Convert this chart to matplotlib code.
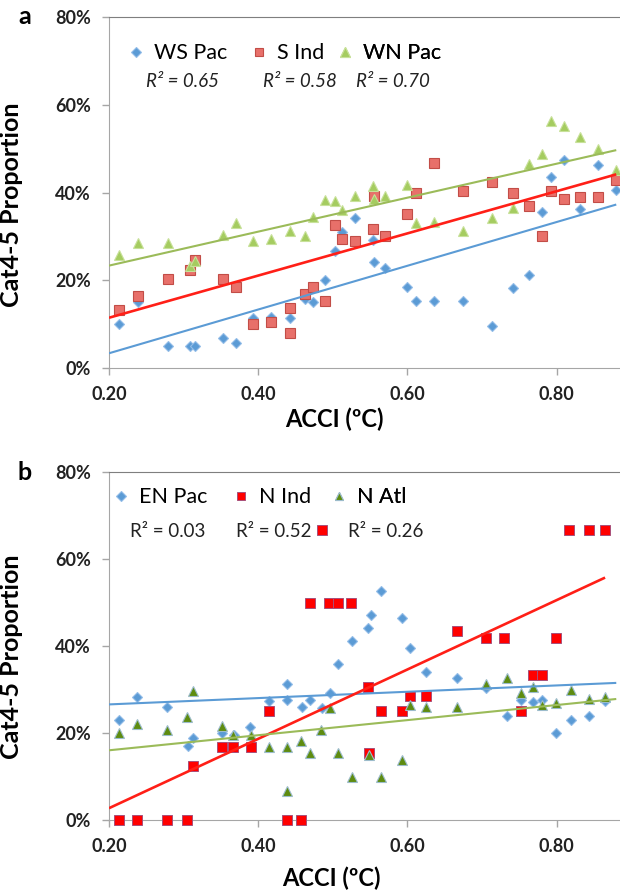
import numpy as np
import matplotlib
matplotlib.use("Agg")
import matplotlib.pyplot as plt
from matplotlib.lines import Line2D

plt.rcParams['font.family'] = ['Lato', 'DejaVu Sans']

# ---- panel a: southern / west pacific basins ----
ws_pac_x = [0.213, 0.239, 0.279, 0.308, 0.315, 0.353, 0.370, 0.393, 0.417, 0.442,
            0.463, 0.474, 0.490, 0.503, 0.513, 0.530, 0.554, 0.555, 0.570, 0.600,
            0.611, 0.635, 0.675, 0.714, 0.742, 0.763, 0.781, 0.792, 0.810, 0.831,
            0.856, 0.880]
ws_pac_y = [10.0, 15.1, 5.1, 5.1, 5.1, 6.9, 5.8, 11.5, 11.7, 11.5,
            15.7, 15.1, 20.0, 26.7, 31.1, 34.1, 29.2, 24.2, 22.7, 18.4,
            15.3, 15.3, 15.3, 9.6, 18.2, 21.3, 35.6, 43.6, 47.5, 36.2,
            46.2, 40.5]

s_ind_x = [0.213, 0.239, 0.279, 0.308, 0.315, 0.353, 0.370, 0.393, 0.417, 0.442,
           0.442, 0.463, 0.474, 0.490, 0.503, 0.513, 0.530, 0.554, 0.555, 0.570,
           0.600, 0.611, 0.635, 0.675, 0.714, 0.742, 0.763, 0.781, 0.792, 0.810,
           0.831, 0.856, 0.880]
s_ind_y = [13.2, 16.4, 20.4, 22.3, 24.6, 20.3, 18.4, 10.0, 10.4, 7.9,
           13.6, 16.9, 18.5, 15.3, 32.7, 29.5, 29.0, 31.8, 39.2, 30.2,
           35.2, 40.0, 46.8, 40.3, 42.3, 39.8, 36.9, 30.1, 40.4, 38.5,
           39.0, 38.9, 42.8]

wn_pac_x = [0.213, 0.239, 0.279, 0.308, 0.315, 0.353, 0.370, 0.393, 0.417, 0.442,
            0.463, 0.474, 0.490, 0.503, 0.513, 0.530, 0.554, 0.555, 0.570, 0.600,
            0.611, 0.635, 0.675, 0.714, 0.742, 0.763, 0.781, 0.792, 0.810, 0.831,
            0.856, 0.880]
wn_pac_y = [25.7, 28.4, 28.4, 23.2, 24.5, 30.4, 33.1, 28.9, 29.4, 31.3,
            30.1, 34.5, 38.4, 38.1, 36.0, 39.2, 41.5, 38.6, 39.3, 41.8,
            33.1, 33.3, 31.2, 34.1, 36.4, 46.5, 48.7, 56.3, 55.1, 52.7,
            50.0, 45.1]

# ---- panel b: northern basins ----
en_pac_x = [0.213, 0.238, 0.278, 0.306, 0.313, 0.351, 0.367, 0.389, 0.414, 0.438,
            0.439, 0.459, 0.470, 0.486, 0.496, 0.507, 0.526, 0.547, 0.548, 0.551,
            0.564, 0.593, 0.603, 0.625, 0.666, 0.705, 0.734, 0.752, 0.769, 0.781,
            0.799, 0.819, 0.844, 0.865]
en_pac_y = [23.1, 28.2, 26.0, 17.0, 18.8, 20.1, 19.5, 21.3, 27.4, 31.3,
            27.7, 26.0, 27.7, 25.7, 29.1, 35.9, 41.2, 44.2, 15.0, 47.1,
            52.7, 46.5, 39.5, 34.1, 32.6, 30.3, 23.8, 27.6, 27.1, 27.6,
            20.1, 23.0, 23.8, 27.4]

n_ind_x = [0.214, 0.238, 0.278, 0.305, 0.313, 0.351, 0.366, 0.390, 0.414, 0.438,
           0.458, 0.469, 0.485, 0.495, 0.507, 0.525, 0.547, 0.549, 0.564, 0.593,
           0.603, 0.625, 0.666, 0.705, 0.730, 0.752, 0.769, 0.781, 0.799, 0.817,
           0.844, 0.865]
n_ind_y = [0.0, 0.0, 0.0, 0.0, 12.5, 16.7, 16.7, 16.7, 25.0, 0.0,
           0.0, 50.0, 66.7, 50.0, 50.0, 50.0, 30.6, 15.3, 25.0, 25.0,
           28.6, 28.6, 43.5, 41.9, 41.9, 25.0, 33.3, 33.3, 41.9, 66.7,
           66.7, 66.7]

n_atl_x = [0.214, 0.238, 0.278, 0.305, 0.313, 0.351, 0.366, 0.390, 0.414, 0.438,
           0.438, 0.458, 0.469, 0.484, 0.496, 0.507, 0.526, 0.548, 0.564, 0.593,
           0.603, 0.625, 0.666, 0.705, 0.734, 0.752, 0.769, 0.781, 0.799, 0.819,
           0.844, 0.865]
n_atl_y = [20.1, 22.1, 20.7, 23.6, 29.7, 21.7, 19.5, 19.5, 16.9, 16.9,
           6.7, 18.2, 15.5, 20.7, 25.7, 15.5, 9.8, 14.9, 10.0, 13.8,
           26.4, 26.0, 26.0, 31.2, 32.6, 29.1, 30.6, 26.4, 27.0, 30.0,
           27.9, 28.2]

r2_a = ["0.65", "0.58", "0.70"]
r2_b = ["0.03", "0.52", "0.26"]

x_ticks = [0.2, 0.4, 0.6, 0.8]
x_tick_labels = ["0.20", "0.40", "0.60", "0.80"]
y_ticks = [0, 20, 40, 60, 80]
y_tick_labels = ["0%", "20%", "40%", "60%", "80%"]

# marker / line styles (Excel-like)
style_ws = dict(marker='D', ms=5.6, mfc='#5b9bd5', mec='#93bde8', mew=0.8)
style_sind = dict(marker='s', ms=7.2, mfc='#e8706a', mec='#c24d47', mew=0.8)
style_wn = dict(marker='^', ms=7.8, mfc='#a5cc60', mec='#c8e19a', mew=0.8)
style_en = style_ws
style_nind = dict(marker='s', ms=6.8, mfc='#ff0000', mec='#a8507a', mew=0.7)
style_natl = dict(marker='^', ms=7.4, mfc='#5e8c10', mec='#9cbccc', mew=0.8)

line_blue = '#5b9bd5'
line_red = '#ff1f17'
line_green = '#9bbb59'


def trend(ax, x, y, color, lw, x_end=None):
    # least squares trendline like Excel
    k, b = np.polyfit(x, y, 1)
    xs = np.array([0.2, x_end if x_end is not None else max(x)])
    ax.plot(xs, k * xs + b, color=color, lw=lw, zorder=4, solid_capstyle='butt')


def style_axes(ax):
    ax.set_xlim(0.2, 0.885)
    ax.set_ylim(0, 80)
    ax.set_xticks(x_ticks)
    ax.set_xticklabels(x_tick_labels)
    ax.set_yticks(y_ticks)
    ax.set_yticklabels(y_tick_labels)
    for lab in ax.get_xticklabels() + ax.get_yticklabels():
        lab.set_fontweight('bold')
        lab.set_fontsize(13)
        lab.set_color('#222222')
    ax.tick_params(axis='both', direction='out', length=5, width=1,
                   color='#a6a6a6', pad=8)
    ax.spines['right'].set_visible(False)
    ax.spines['left'].set_color('#a6a6a6')
    ax.spines['bottom'].set_color('#a6a6a6')
    ax.spines['top'].set_color('#7f7f7f')
    ax.set_ylabel("Cat4-5 Proportion", fontsize=18, fontweight='bold')
    ax.set_xlabel("ACCI (ºC)", fontsize=17, fontweight='bold')


def legend_entry(ax, label, style, fx, fy):
    h = Line2D([], [], ls='none', **style)
    leg = ax.legend([h], [label], loc='center left', bbox_to_anchor=(fx, fy),
                    frameon=False, borderpad=0, borderaxespad=0,
                    handlelength=0.6, handletextpad=0.55, fontsize=15.5,
                    markerscale=0.85)
    ax.add_artist(leg)


fig = plt.figure(figsize=(6.2, 8.92), dpi=100)
ax_a = fig.add_axes([0.1758, 0.5874, 0.8242, 0.3935])
ax_b = fig.add_axes([0.1758, 0.0807, 0.8242, 0.3901])

# panel a
ax_a.plot(ws_pac_x, ws_pac_y, ls='none', zorder=3, **style_ws)
ax_a.plot(s_ind_x, s_ind_y, ls='none', zorder=3, **style_sind)
ax_a.plot(wn_pac_x, wn_pac_y, ls='none', zorder=3, **style_wn)
trend(ax_a, ws_pac_x, ws_pac_y, line_blue, 1.5)
trend(ax_a, s_ind_x, s_ind_y, line_red, 1.9)
trend(ax_a, wn_pac_x, wn_pac_y, line_green, 1.5)
style_axes(ax_a)
ax_a.yaxis.set_label_coords(-0.168, 0.464)
ax_a.xaxis.set_label_coords(0.442, -0.145)
ax_a.xaxis.label.set_va('center')

legend_entry(ax_a, "WS Pac", style_ws, 0.040, 0.897)
legend_entry(ax_a, "S Ind", style_sind, 0.281, 0.897)
legend_entry(ax_a, "WN Pac", style_wn, 0.449, 0.897)
for fx, r in zip([0.072, 0.301, 0.483], r2_a):
    ax_a.text(fx, 0.815, "R² = " + r, transform=ax_a.transAxes, fontsize=13.5,
              style='italic', va='center', ha='left', color='#222222')

# panel b
ax_b.plot(en_pac_x, en_pac_y, ls='none', zorder=3, **style_en)
ax_b.plot(n_ind_x, n_ind_y, ls='none', zorder=3, clip_on=False, **style_nind)
ax_b.plot(n_atl_x, n_atl_y, ls='none', zorder=3, **style_natl)
trend(ax_b, en_pac_x, en_pac_y, line_blue, 1.5, x_end=0.88)
trend(ax_b, n_ind_x, n_ind_y, line_red, 1.9)
trend(ax_b, n_atl_x, n_atl_y, line_green, 1.5, x_end=0.88)
style_axes(ax_b)
ax_b.yaxis.set_label_coords(-0.168, 0.468)
ax_b.xaxis.set_label_coords(0.436, -0.168)
ax_b.xaxis.label.set_va('center')

legend_entry(ax_b, "EN Pac", style_en, 0.011, 0.928)
legend_entry(ax_b, "N Ind", style_nind, 0.246, 0.928)
legend_entry(ax_b, "N Atl", style_natl, 0.437, 0.928)
for fx, r in zip([0.041, 0.249, 0.468], r2_b):
    ax_b.text(fx, 0.828, "R² = " + r, transform=ax_b.transAxes, fontsize=13.5,
              va='center', ha='left', color='#222222')

fig.text(25 / 620, 1 - 17 / 892, "a", fontsize=18, fontweight='bold',
         ha='center', va='center')
fig.text(25 / 620, 1 - 472 / 892, "b", fontsize=18, fontweight='bold',
         ha='center', va='center')

fig.savefig("out.png", dpi=100)
